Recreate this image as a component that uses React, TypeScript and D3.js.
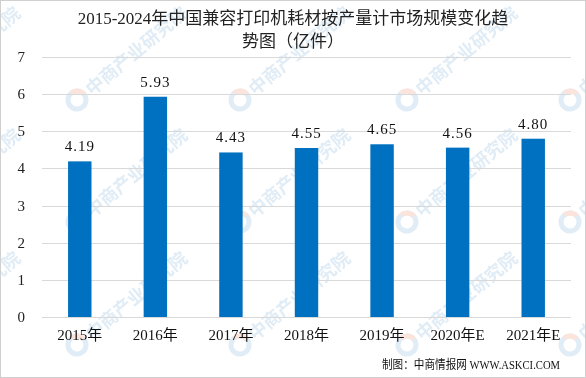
import React from "react";
import * as d3 from "d3";

const categories = ["2015年", "2016年", "2017年", "2018年", "2019年", "2020年E", "2021年E"];
const values = [4.19, 5.93, 4.43, 4.55, 4.65, 4.56, 4.8];
const valueLabels = ["4.19", "5.93", "4.43", "4.55", "4.65", "4.56", "4.80"];
const yTicks = [0, 1, 2, 3, 4, 5, 6, 7];
const titleLines = ["2015-2024年中国兼容打印机耗材按产量计市场规模变化趋", "势图（亿件）"];
const footer = "制图：中商情报网 WWW.ASKCI.COM";
const watermarkText = "中商产业研究院";
const wmCols = [-90, 77, 240, 407, 570];
const wmRows = [-22, 100, 222, 345];

const W = 586;
const H = 378;
const FONT = "'Liberation Serif', 'Noto Sans CJK SC', serif";

export default function App() {
  const x = d3.scaleBand<string>().domain(categories).range([42, 571]).paddingInner(0.69).paddingOuter(0.345);
  const y = d3.scaleLinear().domain([0, 7]).range([317, 57]);

  const wms: { x: number; y: number }[] = [];
  wmCols.forEach((cx) => wmRows.forEach((cy) => wms.push({ x: cx, y: cy })));

  return (
    <svg width={W} height={H} style={{ position: "absolute", left: 0, top: 0 }} fontFamily={FONT}>
      <rect x={0} y={0} width={W} height={H} fill="#ffffff" />
      {/* watermarks */}
      <g opacity={0.45}>
        {wms.map((p, i) => (
          <g key={i} transform={`translate(${p.x},${p.y}) rotate(-40)`}>
            <circle r={9} fill="none" stroke="#b9d4ea" strokeWidth={5} />
            <path d="M0,-9 A9,9 0 0,1 9,0" fill="none" stroke="#f4c3b0" strokeWidth={5} />
            <text x={14} y={7} fontSize={18} fill="#b9d4ea" fontFamily="'Noto Sans CJK SC', sans-serif" fontWeight={700}>
              {watermarkText}
            </text>
          </g>
        ))}
      </g>
      {/* gridlines */}
      {yTicks.map((t) => (
        <line key={t} x1={42} x2={571} y1={Math.round(y(t)) + 0.5} y2={Math.round(y(t)) + 0.5} stroke="#d9d9d9" strokeWidth={1} />
      ))}
      {yTicks.map((t) => (
        <text key={"l" + t} x={25} y={y(t) + 5} fontSize={15} textAnchor="end" fill="#222">
          {t}
        </text>
      ))}
      {/* bars */}
      {categories.map((c, i) => (
        <rect key={c} x={x(c)} y={y(values[i])} width={x.bandwidth()} height={y(0) - y(values[i])} fill="#0070C0" />
      ))}
      {categories.map((c, i) => (
        <text key={"v" + c} x={(x(c) as number) + x.bandwidth() / 2} y={y(values[i]) - 10} fontSize={15} textAnchor="middle" fill="#111" letterSpacing={1}>
          {valueLabels[i]}
        </text>
      ))}
      {categories.map((c) => (
        <text key={"x" + c} x={(x(c) as number) + x.bandwidth() / 2} y={340} fontSize={15} textAnchor="middle" fill="#111">
          {c}
        </text>
      ))}
      {/* title */}
      {titleLines.map((t, i) => (
        <text key={t} x={293} y={24 + i * 23} fontSize={17} textAnchor="middle" fill="#222">
          {t}
        </text>
      ))}
      <text x={382} y={369} fontSize={12} fill="#111" textLength={178} lengthAdjust="spacingAndGlyphs">
        {footer}
      </text>
      <rect x={0.5} y={0.5} width={W - 1} height={H - 1} fill="none" stroke="#d0d0d0" />
    </svg>
  );
}
